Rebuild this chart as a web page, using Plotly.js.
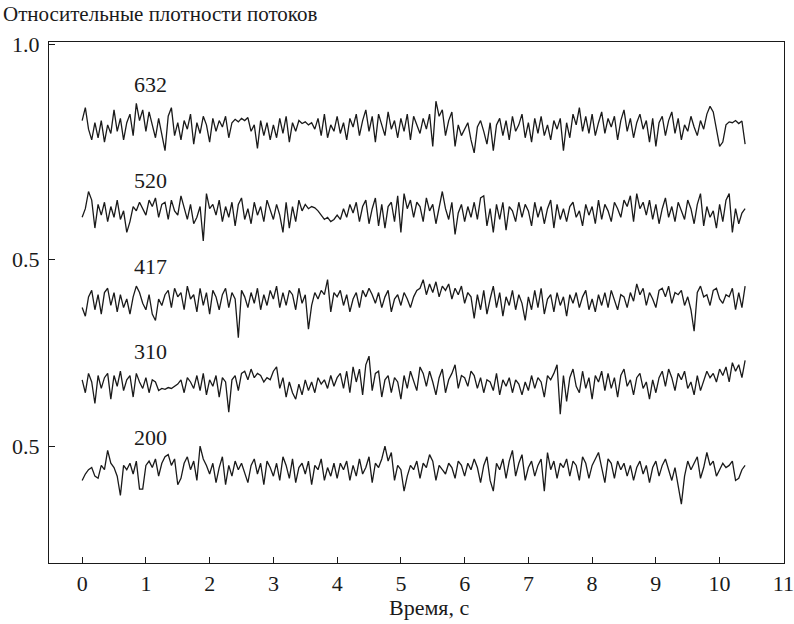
<!DOCTYPE html>
<html>
<head>
<meta charset="utf-8">
<script src="https://cdn.plot.ly/plotly-3.0.1.min.js"></script>
<style>html,body{margin:0;padding:0;background:#fff}#chart{width:794px;height:624px}
#chart text{font-family:'Liberation Serif' !important}</style>
</head>
<body>
<div id="chart"></div>
<script>
// sampling step of the recorded signals, seconds
const dt = 0.05;
// wavelengths (labels of the curves)
const seriesLabels = ['632', '520', '417', '310', '200'];
// mean level of each curve on the plot (y units)
const levels = [0.807, 0.607, 0.402, 0.209, 0.005];
// y-axis ticks
const yTickVals = [1.0, 0.5, 0.065];
const yTickText = ['1.0', '0.5', '0.5'];
const xTickVals = [0,1,2,3,4,5,6,7,8,9,10,11];

// deviations from the mean level, in thousandths
const dev632 = [
 15, 45, -5, -30, 10, -25, 15, -35, 5, -15, 40, -10, 20, -30, 10, 30, -20, 55, 15, 40,
 -10, 35, 5, -25, 20, -15, -55, 25, 45, -20, 10, -30, 15, -5, 30, -40, 10, -15, 25, 5,
 -35, 20, -10, 15, 0, 25, -25, 10, 18, 12, 20, 15, 22, -10, 5, -50, 15, -20, 10, -30,
 5, -25, 20, -15, 25, -35, 10, -10, 15, 8, 12, 5, 10, -5, 20, -20, 30, -25, 5, -10,
 25, -15, 10, -30, 20, 0, 30, -20, 15, 40, -10, 25, -35, 30, 5, -20, 35, -5, 15, -25,
 20, -10, 30, -30, 25, 5, -15, 20, -5, 30, -45, 60, 25, 40, -20, 15, 35, -45, 5, -20,
 -5, 10, -30, -60, 0, 15, -10, -40, 10, -55, 5, 20, -20, 15, -30, 25, -10, 5, 30, -25,
 10, -35, 20, -15, 25, -20, 5, -30, 15, -5, 20, -55, 10, -25, 30, 5, 45, -10, 25, -15,
 30, -20, 10, 35, -15, 20, 0, 25, -30, 15, 40, -10, 20, -25, 10, 30, -5, 15, -35, 20,
 -45, 10, 25, -20, 15, 35, -15, 20, -30, 5, -10, 25, 0, -20, 15, -5, 30, 48, 35, -10,
 -45, -35, 5, 12, 10, 15, 8, 14, -40
];
const dev520 = [
 -10, 10, 50, 30, -35, 20, -5, 25, -20, 15, -10, 30, -15, 5, -45, -20, 15, 5, 25, 10,
 -5, 30, 15, 35, -10, 20, 25, -15, 30, 5, -5, 40, 10, -15, 20, -25, -10, 15, -65, 45,
 10, 20, -5, 30, -20, 15, -10, 25, -30, 20, 35, -15, 10, -25, 25, -5, 15, -20, 30, 10,
 -15, 20, -5, -45, 25, -35, 15, -20, 30, 5, 20, 10, 15, 12, 5, -5, -15, -10, -20, -15,
 -5, -15, 10, -10, 20, 0, 25, -20, 15, 30, -25, 10, 35, -30, 20, -35, 15, 25, -20, 40,
 -45, 45, 10, 30, -10, 25, 15, -20, 35, 5, 20, -25, 15, 50, 10, -15, 25, -50, 0, 20,
 -20, 15, -10, 25, -15, 35, 40, -30, 10, -45, 20, -15, 25, -40, 15, 5, -20, 25, -10, 20,
 5, -30, 25, -10, 15, -25, 10, 30, -35, 20, -15, 10, -20, 15, 25, -10, 5, -30, 20, -5,
 15, -25, 30, -15, 20, 5, -20, 25, 10, -10, 30, 15, 40, -20, 45, 10, 25, -5, 30, -15,
 20, -25, 10, 35, -10, 15, -20, 25, 5, -15, 30, 10, -25, 20, 45, -30, 15, -10, 5, -35,
 20, -20, 30, 45, -45, 10, -25, 0, 10
];
const dev417 = [
 -15, -35, 10, 25, -20, 15, -30, 20, 30, -10, 20, -25, 15, -15, 5, -30, 10, 35, 20, -5,
 -20, 15, -30, -45, 5, -10, 15, 25, -15, 30, 10, 20, -20, 35, 5, 15, -25, 30, -10, 20,
 -30, 25, 10, -20, 15, 30, -15, 20, 5, -85, 25, 10, -15, 20, -5, 30, -20, 15, -10, 25,
 5, 35, -15, 20, -10, 25, 15, -20, 30, -5, 15, -65, -10, 20, 5, 25, 15, 50, -25, 20,
 10, 25, -10, 15, -25, 5, 20, -15, 25, 10, 30, 15, -5, 20, -15, 10, 25, -25, 5, 15,
 -10, 20, 5, -15, 10, 25, 30, 50, 15, 40, 20, 45, 10, 35, 25, 40, 5, 30, 15, 35,
 -5, 20, 10, -40, 15, -20, 25, -30, 5, 35, -15, 20, -35, 10, -10, 25, -20, 15, -5, -45,
 10, -20, 25, -15, 30, -30, 5, 15, -25, 20, -10, 10, -35, 15, -5, 20, -15, 10, 25, -20,
 5, -25, 15, -10, 20, -15, 25, 5, -20, 15, 10, -15, 20, 0, 40, 15, 30, -10, 20, 5,
 -15, 25, 30, 10, 35, -5, 20, 15, 25, -10, 10, -20, -70, 20, 35, 10, 15, -10, 25, 30,
 5, -5, 15, 10, 30, -20, 20, -15, 35
];
const dev310 = [
 10, -20, 25, 5, -45, 20, -10, 15, 25, -35, 20, -5, 30, -15, 10, 20, -30, 25, 5, -10,
 15, -20, 10, 5, -15, -10, -12, -8, -10, -5, 0, 10, -20, 15, 5, -10, 20, -15, 25, -25,
 10, -5, 20, -30, 15, 5, -65, 10, 20, -15, 25, 30, 10, 35, 15, 25, 20, 5, 15, 10,
 30, 40, -10, 15, -30, 5, -20, -35, 0, -25, 10, -15, 5, -20, 15, 0, 10, -10, 20, -5,
 15, 25, -10, 30, -20, 40, 5, 35, -25, 45, 65, -15, 25, 30, -30, 10, 20, -20, 15, 5,
 -35, 20, -10, 30, 10, -15, 40, 25, -5, 30, 5, -25, 15, 35, -20, 10, 25, 45, -10, 20,
 15, -5, 30, 20, -10, 15, -20, 10, 5, -15, 25, -25, 10, -5, 15, -20, 10, 0, -25, 5,
 -15, 20, -10, 15, 5, -30, 20, 10, 25, 45, -70, 20, -40, 15, 35, -5, -20, 30, -10, 15,
 -35, 20, 5, 30, -15, 25, -10, 15, -30, 20, 35, -5, 10, -25, 15, 25, -10, 5, -35, 10,
 -20, 15, 30, -5, 35, 15, -15, 25, 10, 30, -10, 5, -25, 20, -15, 10, 30, 15, 25, 5,
 35, 20, 40, 5, 50, 30, 45, 15, 55
];
const dev200 = [
 -20, -5, 5, 10, -10, -15, 15, 5, 50, 20, 10, -10, -55, 15, 5, 20, -5, 25, -40, -40,
 15, 25, 10, 30, -10, 20, 35, 40, 15, 30, -30, -15, 20, 35, 5, 25, -20, 60, 30, 15,
 -5, 20, -25, 10, 35, -30, 15, -10, 25, 5, 20, 0, -25, 15, 30, -5, 20, -30, 25, 10,
 -10, 20, -20, 35, 15, -15, 30, -25, 10, 20, -5, 25, -30, 15, 5, 30, -20, 10, -10, 20,
 -15, 20, 5, 25, -20, 15, -10, 30, -5, 10, 35, -25, 20, 10, 30, 60, 25, 45, -20, 15,
 5, -45, -10, 15, 5, 25, -15, 20, 10, 40, 25, -20, 15, 5, -5, 20, 10, -15, 25, 15,
 -10, 20, 5, 30, 10, -25, 15, 35, -20, -45, 20, 5, 30, -15, 25, 50, -10, 20, 40, -20,
 10, 25, -10, 15, 30, -45, 45, 5, 25, -15, 20, 10, 30, -10, 25, 15, -20, 35, 20, -15,
 15, 30, 45, 10, -25, 30, 20, -15, 25, 5, 20, -10, 15, -20, 10, 25, -5, 15, -25, 10,
 25, -10, 15, 30, 5, -20, 10, -35, -75, -10, 25, 5, 20, 35, -15, 10, 45, 15, 25, -10,
 5, 20, 10, 15, 25, -20, -15, 5, 15
];

const devs = [dev632, dev520, dev417, dev310, dev200];

const traces = devs.map((d, k) => ({
  type: 'scatter',
  mode: 'lines',
  x: d.map((_, i) => +(i * dt).toFixed(2)),
  y: d.map(v => levels[k] + v / 1000),
  line: {color: '#1a1a1a', width: 1.3},
  hoverinfo: 'skip',
  showlegend: false
}));

const FAM = 'Times New Roman';
const INK = '#1a1a1a';

const labelPos = [0.905, 0.683, 0.482, 0.286, 0.086];
const annotations = seriesLabels.map((s, k) => ({
  text: s, x: 1.07, y: labelPos[k], xref: 'x', yref: 'y',
  showarrow: false, xanchor: 'center', yanchor: 'middle',
  font: {family: FAM, size: 22, color: INK}
}));
annotations.push({
  text: 'Время, с', xref: 'paper', yref: 'paper', x: 0.517, y: -0.085,
  showarrow: false, xanchor: 'center', yanchor: 'middle',
  font: {family: FAM, size: 22, color: INK}
});

const layout = {
  width: 794, height: 624,
  margin: {l: 49, r: 10, t: 42, b: 61},
  paper_bgcolor: '#fff', plot_bgcolor: '#fff',
  title: {
    text: 'Относительные плотности потоков',
    xref: 'container', yref: 'container',
    x: 3/794, xanchor: 'left', y: 1 - 14/624, yanchor: 'middle',
    font: {family: FAM, size: 21, color: INK}
  },
  xaxis: {
    range: [-0.52, 11.01], tickvals: xTickVals, ticktext: xTickVals.map(String),
    ticks: 'inside', ticklen: 6, tickwidth: 1, tickcolor: INK,
    showline: true, mirror: true, linecolor: INK, linewidth: 1.3,
    showgrid: false, zeroline: false,
    tickfont: {family: FAM, size: 22, color: INK}
  },
  yaxis: {
    range: [-0.207, 1.0047], tickvals: yTickVals, ticktext: yTickText,
    ticks: 'inside', ticklen: 6, tickwidth: 1, tickcolor: INK,
    showline: true, mirror: true, linecolor: INK, linewidth: 1.3,
    showgrid: false, zeroline: false, ticklabelstandoff: 4,
    tickfont: {family: FAM, size: 22, color: INK}
  },
  annotations: annotations
};

function forceSerif() {
  document.querySelectorAll('#chart text').forEach(t => {
    t.style.fontFamily = "'Liberation Serif', 'Times New Roman', serif";
  });
}
Plotly.newPlot('chart', traces, layout, {displayModeBar: false}).then(forceSerif);
forceSerif();
</script>
</body>
</html>
